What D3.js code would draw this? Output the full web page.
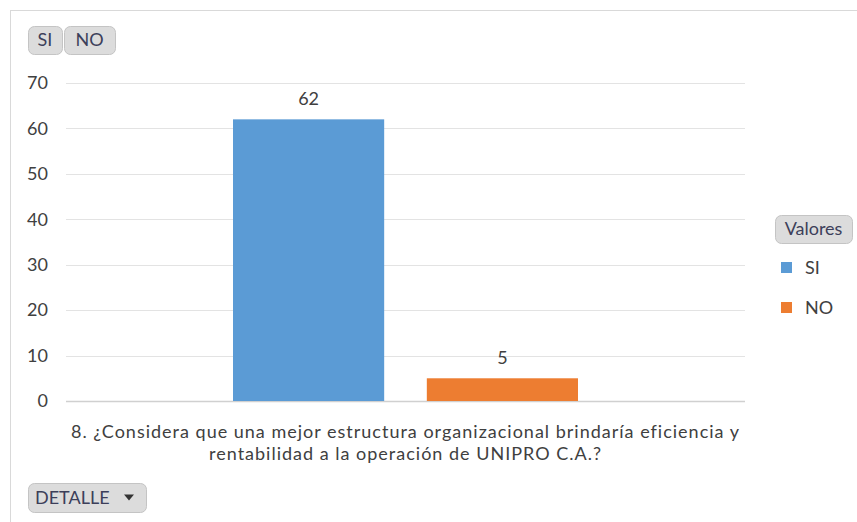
<!DOCTYPE html>
<html>
<head>
<meta charset="utf-8">
<script src="https://cdn.jsdelivr.net/npm/d3@7"></script>
<style>
  body { margin: 0; background: #fff; }
  svg { font-family: Lato, "Open Sans", sans-serif; }
</style>
</head>
<body>
<svg id="chart" width="857" height="522"></svg>
<script>
var series = ["SI", "NO"];
var values = [62, 5];
var colors = ["#5b9bd5", "#ed7d31"];
var yTicks = [0, 10, 20, 30, 40, 50, 60, 70];
var categoryLines = ["8. ¿Considera que una mejor estructura organizacional brindaría eficiencia y",
    "rentabilidad a la operación de UNIPRO C.A.?"];

var svg = d3.select("#chart");

// outer frame
svg.append("rect")
    .attr("x", 10.5).attr("y", 10.5)
    .attr("width", 860).attr("height", 530)
    .attr("fill", "#fff").attr("stroke", "#d9d9d9");

var plot = {left: 66, right: 745, top: 83, bottom: 401};

var y = d3.scaleLinear().domain([0, 70]).range([plot.bottom, plot.top]);
var x = d3.scaleBand().domain(series)
    .range([plot.left + 167, plot.right - 167])
    .paddingInner(0.22).paddingOuter(0);

// gridlines
svg.append("g").selectAll("line")
    .data(yTicks)
    .enter().append("line")
    .attr("x1", plot.left).attr("x2", plot.right)
    .attr("y1", function (d) { return Math.round(y(d)) + 0.5; })
    .attr("y2", function (d) { return Math.round(y(d)) + 0.5; })
    .attr("stroke", function (d) { return d == 0 ? "#d0d0d0" : "#e3e3e3"; })
    .attr("stroke-width", function (d) { return d == 0 ? 1.5 : 1; });

// y axis labels
var yAxis = d3.axisLeft(y).tickValues(yTicks).tickSize(0).tickPadding(18);
var gy = svg.append("g")
    .attr("transform", "translate(" + plot.left + ",0)")
    .call(yAxis);
gy.select(".domain").remove();
gy.selectAll("text").attr("fill", "#404040").style("font-size", "18px")
    .style("font-family", "Lato, 'Open Sans', sans-serif");

// bars
svg.append("g").selectAll("rect")
    .data(values)
    .enter().append("rect")
    .attr("x", function (d, i) { return x(series[i]); })
    .attr("y", function (d) { return y(d); })
    .attr("width", x.bandwidth())
    .attr("height", function (d) { return y(0) - y(d); })
    .attr("fill", function (d, i) { return colors[i]; });

// data labels
svg.append("g").selectAll("text")
    .data(values)
    .enter().append("text")
    .attr("x", function (d, i) { return x(series[i]) + x.bandwidth() / 2; })
    .attr("y", function (d) { return y(d) - 14; })
    .attr("text-anchor", "middle")
    .attr("fill", "#404040")
    .style("font-size", "18px")
    .text(function (d) { return d; });

// category label
svg.append("g").selectAll("text")
    .data(categoryLines)
    .enter().append("text")
    .attr("x", (plot.left + plot.right) / 2)
    .attr("y", function (d, i) { return 438 + i * 22; })
    .attr("text-anchor", "middle")
    .attr("fill", "#404040")
    .style("font-size", "18px")
    .style("letter-spacing", "1px")
    .text(function (d) { return d; });

// pivot-style buttons
function button(x0, y0, w, h, label, arrow) {
    var g = svg.append("g");
    g.append("rect")
        .attr("x", x0 + 0.5).attr("y", y0 + 0.5)
        .attr("width", w).attr("height", h)
        .attr("rx", 6)
        .attr("fill", "#dcdcdc").attr("stroke", "#c4c4c4");
    g.append("text")
        .attr("x", arrow ? x0 + 7 : x0 + w / 2)
        .attr("y", y0 + h / 2 + 6)
        .attr("text-anchor", arrow ? "start" : "middle")
        .attr("fill", "#3c3f5a")
        .style("font-size", "18px")
        .text(label);
    if (arrow) {
        g.append("path")
            .attr("d", "M" + (x0 + w - 22) + "," + (y0 + h / 2 - 3) + " l10,0 l-5,6 z")
            .attr("fill", "#333");
    }
}
button(28, 26, 34, 28, "SI");
button(64, 26, 51, 28, "NO");
button(775, 215, 77, 28, "Valores");
button(28, 483, 118, 29, "DETALLE", true);

// legend
var legend = svg.append("g").selectAll("g")
    .data(series)
    .enter().append("g")
    .attr("transform", function (d, i) { return "translate(781," + (262 + i * 40) + ")"; });
legend.append("rect")
    .attr("width", 11).attr("height", 11)
    .attr("fill", function (d, i) { return colors[i]; });
legend.append("text")
    .attr("x", 24).attr("y", 12)
    .attr("fill", "#404040")
    .style("font-size", "18px")
    .text(function (d) { return d; });
</script>
</body>
</html>
